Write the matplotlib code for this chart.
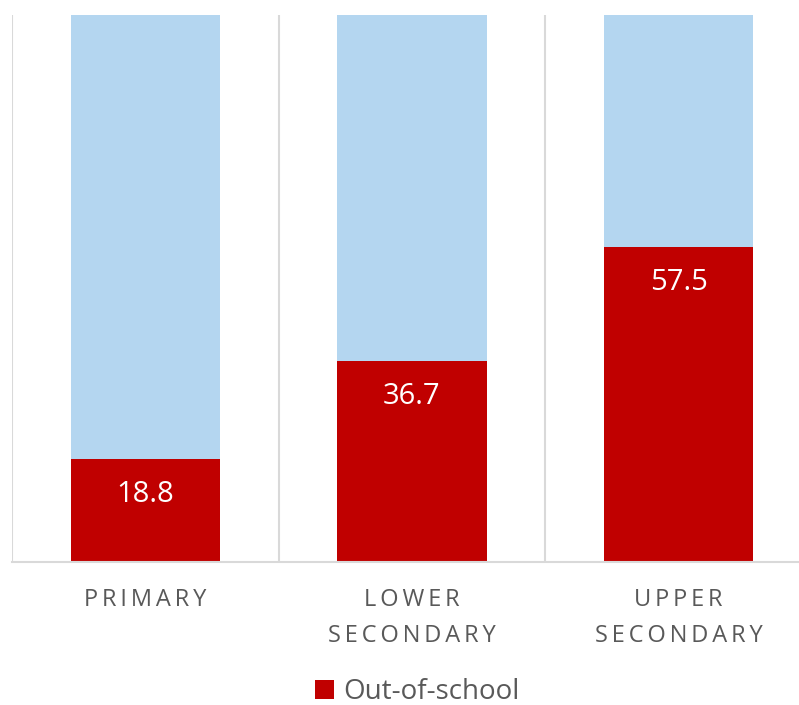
import numpy as np
import matplotlib
matplotlib.use("Agg")
import matplotlib.pyplot as plt
from matplotlib.patches import Patch

# data
categories = ["PRIMARY", "LOWER\nSECONDARY", "UPPER\nSECONDARY"]
out_of_school = [18.8, 36.7, 57.5]
total = 100.0

red = "#C00000"
blue = "#B4D6F0"
grey_line = "#D9D9D9"
txt = "#595959"

plt.rcParams['font.family'] = ['Open Sans', 'DejaVu Sans']

def spaced(s):
    # letter spacing, done with thin spaces
    return "\n".join("\u2009".join(line) for line in s.split("\n"))

fig = plt.figure(figsize=(7.99, 7.05), dpi=100)
# plot area runs a little past the right edge, like the original
ax = fig.add_axes([12 / 799, 143 / 705, 800 / 799, 547 / 705])

x = np.arange(len(categories))
oos = np.array(out_of_school)
rest = total - oos

ax.bar(x, oos, width=0.56, color=red, zorder=2)
ax.bar(x, rest, bottom=oos, width=0.56, color=blue, zorder=2)

for xi, v in zip(x, oos):
    ax.text(xi, v - 6.4, "%.1f" % v, ha="center", va="center",
            color="white", fontsize=21)

# category separators
for xs in np.arange(-0.5, len(categories), 1.0):
    ax.axvline(xs, color=grey_line, lw=1.5, zorder=1)

ax.set_xlim(-0.5, len(categories) - 0.5)
ax.set_ylim(0, total)
ax.set_yticks([])
ax.set_xticks(x)
ax.set_xticklabels([spaced(c) for c in categories], fontsize=17, color=txt,
                   linespacing=1.62, family=['Open Sans', 'DejaVu Sans'])
ax.tick_params(axis="x", length=0, pad=19)
for lab in ax.get_xticklabels():
    lab.set_verticalalignment("top")

for s in ["top", "right", "left"]:
    ax.spines[s].set_visible(False)
ax.spines["bottom"].set_color(grey_line)
ax.spines["bottom"].set_linewidth(1.5)

handles = [Patch(facecolor=red, label="Out-of-school")]
leg = fig.legend(handles=handles, loc="center", bbox_to_anchor=(0.522, 13 / 705),
                 frameon=False, fontsize=20, handlelength=0.7, handleheight=0.7,
                 handletextpad=0.3, borderpad=0)
for t in leg.get_texts():
    t.set_color(txt)

fig.savefig("out.png", dpi=100)
